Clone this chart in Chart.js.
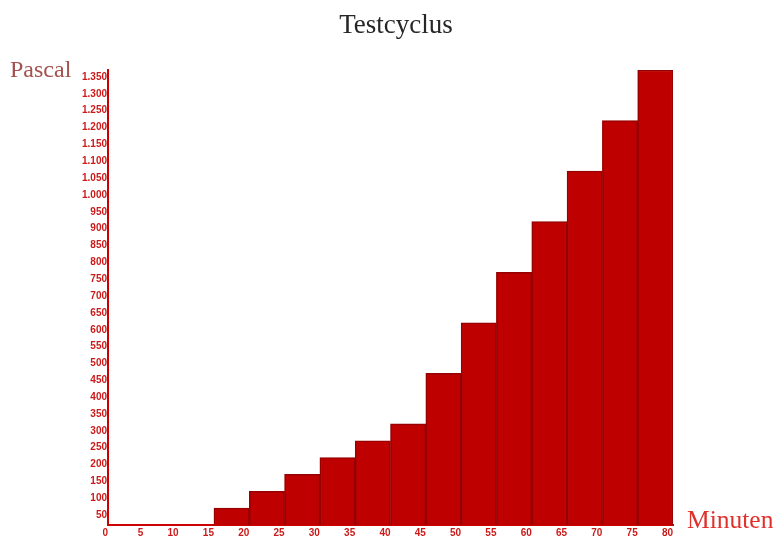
<!DOCTYPE html>
<html>
<head>
<meta charset="utf-8">
<script src="https://cdn.jsdelivr.net/npm/chart.js@4/dist/chart.umd.min.js"></script>
<style>
  html, body { margin: 0; padding: 0; background: #fff; }
  #wrap { width: 774px; height: 537px; position: relative; }
</style>
</head>
<body>
<div id="wrap"><canvas id="c" width="774" height="537"></canvas></div>
<script>
const chartTitle = 'Testcyclus';
const yAxisTitle = 'Pascal';
const xAxisTitle = 'Minuten';
// start minute of each 5-minute interval
const intervalStarts = [0, 5, 10, 15, 20, 25, 30, 35, 40, 45, 50, 55, 60, 65, 70, 75];
const intervalLength = 5;
// pressure (Pascal) during each interval
const pressure = [0, 0, 0, 50, 100, 150, 200, 250, 300, 450, 600, 750, 900, 1050, 1200, 1350];
const xMin = 0, xMax = 80, xStep = 5;
const yMin = 0, yMax = 1350, yStep = 50;

const points = intervalStarts.map((s, i) => ({ x: s + intervalLength / 2, y: pressure[i] }));

const axisTitles = {
  id: 'axisTitles',
  afterDraw(chart) {
    const ctx = chart.ctx;
    const a = chart.chartArea;
    ctx.save();
    ctx.font = '24px "Liberation Serif"';
    ctx.fillStyle = '#a3524e';
    ctx.textAlign = 'left';
    ctx.textBaseline = 'alphabetic';
    ctx.fillText(yAxisTitle, 10, a.top + 7);
    ctx.font = '25.5px "Liberation Serif"';
    ctx.fillStyle = '#e0302c';
    ctx.fillText(xAxisTitle, a.right + 14, a.bottom + 3);
    ctx.restore();
  }
};

const tickFont = { family: '"Liberation Sans", Arial, sans-serif', size: 10, weight: 'bold' };
const fmt = new Intl.NumberFormat('de-DE');

new Chart(document.getElementById('c'), {
  type: 'bar',
  data: {
    datasets: [{
      data: points,
      backgroundColor: '#bf0000',
      borderColor: '#960000',
      borderWidth: 1.5,
      barPercentage: 1,
      categoryPercentage: 1
    }]
  },
  options: {
    responsive: false,
    animation: false,
    layout: { padding: { left: 18, right: 0, top: 0, bottom: 0 } },
    plugins: {
      legend: { display: false },
      tooltip: { enabled: false },
      title: {
        display: true,
        text: chartTitle,
        color: '#262626',
        font: { family: '"Liberation Serif", serif', size: 27, weight: 'normal', lineHeight: 1.2 },
        padding: { top: 10, bottom: 27.6 }
      }
    },
    scales: {
      x: {
        type: 'linear',
        min: xMin, max: xMax,
        offset: false,
        grid: { display: false, offset: false, drawTicks: false },
        border: { display: true, color: '#cc0000', width: 2 },
        ticks: {
          stepSize: xStep,
          autoSkip: false,
          maxRotation: 0,
          align: 'end',
          padding: 2,
          color: '#cc1a1a',
          font: tickFont
        },
        afterFit(s) { s.height = 12; }
      },
      y: {
        type: 'linear',
        min: yMin, max: yMax,
        grid: { display: false, drawTicks: false },
        border: { display: true, color: '#cc0000', width: 2 },
        ticks: {
          stepSize: yStep,
          autoSkip: false,
          maxTicksLimit: 100,
          padding: 1,
          labelOffset: 7,
          color: '#cc1a1a',
          font: tickFont,
          callback: v => v === 0 ? '' : fmt.format(v)
        },
        afterFit(s) { s.width = 90; }
      },
      spacer: {
        type: 'linear',
        position: 'right',
        display: true,
        grid: { display: false, drawTicks: false },
        border: { display: false },
        ticks: { display: false },
        afterFit(s) { s.width = 101; }
      }
    }
  },
  plugins: [axisTitles]
});
</script>
</body>
</html>
